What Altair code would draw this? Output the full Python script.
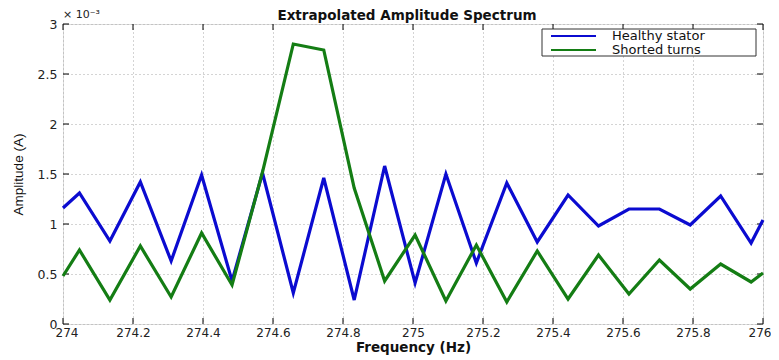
import altair as alt
import pandas as pd

# Frequency samples (Hz)
freq = [274.0, 274.047, 274.134, 274.221, 274.309, 274.396, 274.483, 274.570,
        274.658, 274.745, 274.832, 274.919, 275.006, 275.094, 275.181, 275.268,
        275.355, 275.443, 275.530, 275.617, 275.704, 275.792, 275.879, 275.966,
        276.0]
# Amplitudes in units of 1e-3 A
healthy = [1.16, 1.31, 0.83, 1.42, 0.63, 1.49, 0.43, 1.51, 0.31, 1.46, 0.24,
           1.58, 0.41, 1.50, 0.61, 1.41, 0.82, 1.29, 0.98, 1.15, 1.15, 0.99,
           1.28, 0.81, 1.04]
shorted = [0.48, 0.74, 0.24, 0.78, 0.27, 0.91, 0.39, 1.52, 2.80, 2.74, 1.36,
           0.43, 0.89, 0.23, 0.79, 0.22, 0.73, 0.25, 0.69, 0.30, 0.64, 0.35,
           0.60, 0.42, 0.51]
series_names = ["Healthy stator", "Shorted turns"]
series_colors = ["#0b0bd0", "#147d14"]

x_ticks = [274.0, 274.2, 274.4, 274.6, 274.8, 275.0, 275.2, 275.4, 275.6, 275.8, 276.0]
y_ticks = [0.0, 0.5, 1.0, 1.5, 2.0, 2.5, 3.0]

title_text = "Extrapolated Amplitude Spectrum"
exponent_text = "× 10⁻³"

rows = []
for f, h in zip(freq, healthy):
    rows.append({"freq": f, "amp": h, "series": series_names[0]})
for f, s in zip(freq, shorted):
    rows.append({"freq": f, "amp": s, "series": series_names[1]})
df = pd.DataFrame(rows)
xt = pd.DataFrame({"t": x_ticks})
yt = pd.DataFrame({"t": y_ticks})

W, H = 700, 300
xscale = alt.Scale(domain=[274, 276], nice=False, zero=False)
yscale = alt.Scale(domain=[0, 3], nice=False)
cscale = alt.Scale(domain=series_names, range=series_colors)

lines = alt.Chart(df).mark_line(strokeWidth=3.2, strokeJoin="miter").encode(
    x=alt.X("freq:Q", scale=xscale,
            axis=alt.Axis(values=x_ticks, format="~f", title="Frequency (Hz)",
                          grid=True, gridDash=[1, 3], gridColor="#a8a8a8",
                          tickSize=0, domain=False, labelPadding=3,
                          labelFont="DejaVu Sans", labelFontSize=12,
                          labelColor="#222222", labelFlush=True, labelFlushOffset=8,
                          titleFont="DejaVu Sans", titleFontWeight="bold",
                          titleFontSize=13.5, titleY=27.5, titleBaseline="alphabetic",
                          titleColor="#111111")),
    y=alt.Y("amp:Q", scale=yscale,
            axis=alt.Axis(values=y_ticks, format="~f", title="Amplitude (A)",
                          grid=True, gridDash=[1, 3], gridColor="#a8a8a8",
                          tickSize=0, domain=False, labelPadding=6,
                          labelFont="DejaVu Sans", labelFontSize=12.5,
                          labelColor="#222222", labelFlush=False,
                          titleFont="Liberation Sans", titleFontWeight="normal",
                          titleFontSize=13.5, titleX=-45, titleBaseline="middle",
                          titleColor="#111111")),
    color=alt.Color("series:N", scale=cscale, legend=None),
)

tick_b = alt.Chart(xt).mark_rule(color="black", strokeWidth=1).encode(
    x=alt.X("t:Q", scale=xscale), y=alt.value(H), y2=alt.value(H - 6))
tick_t = alt.Chart(xt).mark_rule(color="black", strokeWidth=1).encode(
    x=alt.X("t:Q", scale=xscale), y=alt.value(0), y2=alt.value(6))
tick_l = alt.Chart(yt).mark_rule(color="black", strokeWidth=1).encode(
    y=alt.Y("t:Q", scale=yscale), x=alt.value(0), x2=alt.value(6))
tick_r = alt.Chart(yt).mark_rule(color="black", strokeWidth=1).encode(
    y=alt.Y("t:Q", scale=yscale), x=alt.value(W), x2=alt.value(W - 6))

exp_label = alt.Chart(pd.DataFrame({"txt": [exponent_text]})).mark_text(
    align="left", baseline="bottom", font="DejaVu Sans", fontSize=11, color="#222222"
).encode(text="txt:N", x=alt.value(0), y=alt.value(-4))

title_mark = alt.Chart(pd.DataFrame({"txt": [title_text]})).mark_text(
    align="center", baseline="top", font="DejaVu Sans", fontSize=13.5,
    fontWeight="bold", color="#111111"
).encode(text="txt:N", x=alt.value(W / 2 - 6), y=alt.value(-15))

# Legend box (MATLAB-style, inside the axes, top right)
leg_df = pd.DataFrame({"series": series_names, "row": [0, 1]})
leg_box = alt.Chart(pd.DataFrame({"a": [0]})).mark_rect(
    fill="white", stroke="#333333", strokeWidth=1
).encode(x=alt.value(479), x2=alt.value(693), y=alt.value(5), y2=alt.value(32))
leg_line0 = alt.Chart(leg_df.iloc[[0]]).mark_rule(strokeWidth=2).encode(
    x=alt.value(488), x2=alt.value(533), y=alt.value(12),
    color=alt.Color("series:N", scale=cscale, legend=None))
leg_line1 = alt.Chart(leg_df.iloc[[1]]).mark_rule(strokeWidth=2).encode(
    x=alt.value(488), x2=alt.value(533), y=alt.value(26),
    color=alt.Color("series:N", scale=cscale, legend=None))
leg_text0 = alt.Chart(leg_df.iloc[[0]]).mark_text(
    align="left", baseline="middle", font="DejaVu Sans", fontSize=13, color="#111111"
).encode(text="series:N", x=alt.value(549), y=alt.value(12))
leg_text1 = alt.Chart(leg_df.iloc[[1]]).mark_text(
    align="left", baseline="middle", font="DejaVu Sans", fontSize=13, color="#111111"
).encode(text="series:N", x=alt.value(549), y=alt.value(26))

chart = alt.layer(
    tick_b, tick_t, tick_l, tick_r, lines, exp_label, title_mark,
    leg_box, leg_line0, leg_line1, leg_text0, leg_text1
).properties(
    width=W, height=H,
    autosize=alt.AutoSizeParams(type="none"),
    padding={"left": 55, "top": 16, "right": 8, "bottom": 36},
).configure_view(stroke="black", strokeWidth=1).configure(background="white")

chart.save("out.html", embed_options={"renderer": "svg", "actions": False})
